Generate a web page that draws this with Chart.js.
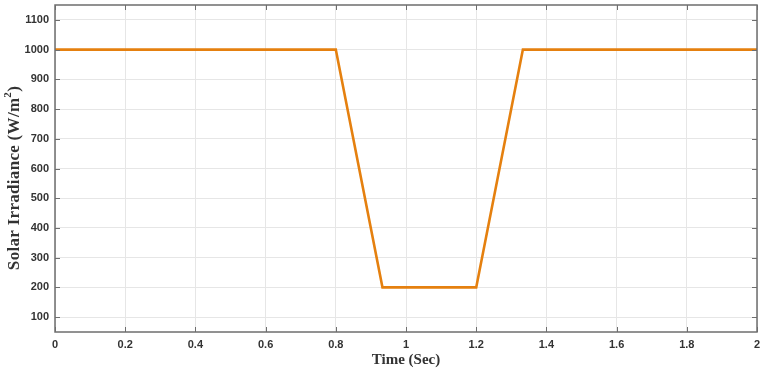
<!DOCTYPE html>
<html>
<head>
<meta charset="utf-8">
<script src="https://cdn.jsdelivr.net/npm/chart.js@4/dist/chart.umd.min.js"></script>
<style>
  html, body { margin: 0; padding: 0; background: #fff; }
  #wrap { width: 763px; height: 369px; position: relative; }
</style>
</head>
<body>
<div id="wrap"><canvas id="irradiance"></canvas></div>
<script>
// time (s) and irradiance (W/m2)
const timeSec = [0, 0.8, 0.933, 1.2, 1.333, 2];
const irradiance = [1000, 1000, 200, 200, 1000, 1000];
const xTicks = [0, 0.2, 0.4, 0.6, 0.8, 1, 1.2, 1.4, 1.6, 1.8, 2];
const yTicks = [100, 200, 300, 400, 500, 600, 700, 800, 900, 1000, 1100];

const tickFont = { family: "'Liberation Sans', Arial, sans-serif", size: 11, weight: "bold" };
const titleFont = { family: "'Liberation Serif', 'Times New Roman', serif", size: 15, weight: "bold" };

// box frame with inward ticks on all four sides (matlab look)
const boxFrame = {
    id: "boxFrame",
    afterDatasetsDraw(chart) {
        const { ctx, chartArea: a, scales } = chart;
        ctx.save();
        ctx.strokeStyle = "#6e6e6e";
        ctx.lineWidth = 1;
        const len = 5;
        ctx.beginPath();
        xTicks.forEach(v => {
            const px = Math.round(scales.x.getPixelForValue(v)) + 0.5;
            ctx.moveTo(px, a.bottom); ctx.lineTo(px, a.bottom - len);
            ctx.moveTo(px, a.top); ctx.lineTo(px, a.top + len);
        });
        yTicks.forEach(v => {
            const py = Math.round(scales.y.getPixelForValue(v)) + 0.5;
            ctx.moveTo(a.left, py); ctx.lineTo(a.left + len, py);
            ctx.moveTo(a.right, py); ctx.lineTo(a.right - len, py);
        });
        ctx.stroke();
        ctx.lineWidth = 1.5;
        ctx.strokeRect(a.left, a.top, a.right - a.left, a.bottom - a.top);
        ctx.restore();
    }
};

// y title drawn by hand so the superscript 2 sits like in the figure
const yTitle = {
    id: "yTitle",
    afterDraw(chart) {
        const ctx = chart.ctx;
        const main = "Solar Irradiance (W/m";
        const big = "bold 17px 'Liberation Serif', 'Times New Roman', serif";
        const small = "bold 11px 'Liberation Serif', 'Times New Roman', serif";
        ctx.save();
        ctx.translate(15, 178);
        ctx.rotate(-Math.PI / 2);
        ctx.fillStyle = "#333";
        ctx.textBaseline = "middle";
        ctx.letterSpacing = "0.3px";
        ctx.font = big;
        const w1 = ctx.measureText(main).width;
        const wp = ctx.measureText(")").width;
        ctx.font = small;
        const w2 = ctx.measureText("2").width;
        let x = -(w1 + w2 + wp) / 2;
        ctx.font = big;
        ctx.fillText(main, x, 0);
        x += w1;
        ctx.font = small;
        ctx.fillText("2", x, -7);
        x += w2;
        ctx.font = big;
        ctx.fillText(")", x, 0);
        ctx.restore();
    }
};

new Chart(document.getElementById("irradiance"), {
    type: "line",
    data: {
        datasets: [{
            data: timeSec.map((t, i) => ({ x: t, y: irradiance[i] })),
            borderColor: "#e5800f",
            borderWidth: 2.6,
            pointRadius: 0,
            tension: 0,
            fill: false,
        }],
    },
    options: {
        responsive: true,
        maintainAspectRatio: false,
        animation: false,
        layout: { padding: { top: 5, right: 6, left: 0, bottom: 0 } },
        plugins: { legend: { display: false }, tooltip: { enabled: false } },
        scales: {
            x: {
                type: "linear",
                min: 0,
                max: 2,
                afterBuildTicks: s => { s.ticks = xTicks.map(v => ({ value: v })); },
                afterFit: s => { s.height = 37; s.paddingLeft = 0; s.paddingRight = 0; },
                grid: { color: "#e6e6e6", lineWidth: 1, drawTicks: false },
                border: { display: false },
                ticks: {
                    font: tickFont,
                    color: "#333",
                    padding: 6,
                    maxRotation: 0,
                    autoSkip: false,
                    callback: v => String(+v.toFixed(1)),
                },
                title: {
                    display: true,
                    text: "Time (Sec)",
                    font: titleFont,
                    color: "#333",
                    padding: { top: 0, bottom: 0 },
                },
            },
            y: {
                min: 50,
                max: 1150,
                afterBuildTicks: s => { s.ticks = yTicks.map(v => ({ value: v })); },
                afterFit: s => { s.width = 55; s.paddingTop = 0; s.paddingBottom = 0; },
                grid: { color: "#e6e6e6", lineWidth: 1, drawTicks: false },
                border: { display: false },
                ticks: {
                    font: tickFont,
                    color: "#333",
                    padding: 6,
                    autoSkip: false,
                    callback: v => String(v),
                },
                title: { display: false },
            },
        },
    },
    plugins: [boxFrame, yTitle],
});
</script>
</body>
</html>
